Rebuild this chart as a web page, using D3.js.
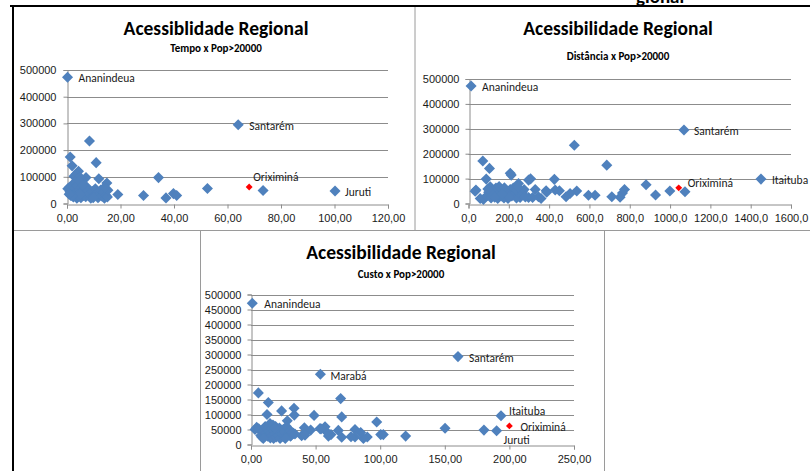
<!DOCTYPE html>
<html>
<head>
<meta charset="utf-8">
<script src="https://cdn.jsdelivr.net/npm/d3@7"></script>
<style>
  body { margin: 0; background: #fff; }
  svg { display: block; font-family: Carlito, "Liberation Sans Narrow", "DejaVu Sans Condensed", sans-serif; }
</style>
</head>
<body>
<svg id="sheet" width="810" height="471"></svg>
<script>
// ---- Data: [x value, population] ----
const tempoPoints = [
  [73.3,49000],[52.5,56000],[34.2,97000],[39.8,37000],[41.0,30000],[37.0,21000],[28.6,30000],[19.0,34000],
  [8.4,234000],[1.2,174000],[1.9,141000],[10.9,153000],[11.9,93000],[7.1,97000],[4.3,121000],[3.4,110000],
  [14.9,77000],[2.6,102000],[4.9,98000],
  [0.3,55000],[0.9,61000],[1.1,44000],[1.4,30000],[1.7,52000],[2.0,68000],[2.2,38000],[2.4,24000],[2.9,80000],
  [3.0,58000],[3.2,33000],[3.5,45000],[3.7,20000],[3.9,66000],[4.1,28000],[4.4,51000],[4.6,85000],[4.8,37000],
  [5.2,22000],[5.5,60000],[5.8,45000],[6.1,30000],[6.4,55000],[6.8,40000],[7.0,25000],[7.4,62000],[7.8,48000],
  [8.2,35000],[8.9,20000],[9.5,45000],[10.1,28000],[10.6,55000],[11.0,38000],[11.6,22000],[12.1,35000],
  [12.6,50000],[13.1,27000],[13.6,42000],[14.0,20000],[14.6,30000],[15.1,24000],[15.3,50000],[13.9,60000],
  [9.8,22000],[6.0,70000],[5.0,35000],[2.0,28000],[0.8,35000]
];
const tempoNamed = [
  ["Ananindeua", 0.2, 473000], ["Santarém", 64.0, 295000], ["Juruti", 100.2, 47000], ["Oriximiná", 68.1, 62000]
];

const distanciaPoints = [
  [1074,47000],[999,50000],[928,34000],[881,75000],[774,56000],[764,42000],[752,25000],[711,27000],[686,154000],
  [628,33000],[595,33000],[537,50000],[525,234000],[504,40000],[484,27000],[426,97000],[430,54000],[451,51000],
  [385,51000],[388,45000],[360,20000],[347,27000],[331,56000],[308,99000],[298,94000],[298,24000],[248,80000],
  [232,40000],[256,24000],[207,121000],[212,114000],[207,56000],[104,141000],[71,171000],[88,98000],[37,54000],
  [33,49000],[58,20000],[74,16000],[157,60000],[108,67000],[132,54000],[121,33000],[141,27000],[190,33000],
  [90,30000],[100,45000],[112,22000],[118,52000],[126,38000],[136,62000],[145,20000],[150,42000],[162,30000],
  [170,50000],[176,22000],[185,40000],[196,20000],[200,47000],[215,30000],[222,62000],[226,36000],[238,22000],
  [240,52000],[262,32000],[268,46000],[276,56000],[282,26000],[152,68000],[178,63000],[114,40000],[96,58000],
  [244,66000],[130,25000],[318,24000],[200,26000],[165,38000]
];
const distanciaNamed = [
  ["Ananindeua", 13, 472000], ["Santarém", 1069, 295000], ["Itaituba", 1451, 98000], ["Oriximiná", 1043, 63000]
];

const custoPoints = [
  [180.3,48000],[150.2,54000],[119.7,28000],[97.3,75000],[100.4,33000],[102.4,33000],[90,25000],[87,20000],
  [84.9,40000],[80.5,50000],[80.5,25000],[77.4,26000],[70.2,24000],[70.2,92000],[69.4,153000],[67.6,47000],
  [61.9,33000],[59.9,28000],[57.3,59000],[58.6,42000],[54.2,52000],[53.4,53000],[48.8,97000],[46.2,48000],
  [41.3,56000],[39.2,29000],[43.1,44000],[41.8,31000],[33.3,121000],[33.5,98000],[32.8,37000],[30.5,28000],
  [28.1,79000],[28.0,55000],[23.7,112000],[23.7,26000],
  [5.7,172000],[13.4,140000],[12.4,100000],[4.4,57000],[3.1,50000],[8.3,25000],
  [6,52000],[7.5,30000],[9,45000],[10,25000],[11,60000],[11.5,38000],[12.5,52000],[13,28000],[14,45000],
  [14.7,70000],[15,22000],[15.5,38000],[16,53000],[16.5,30000],[17,65000],[17.5,20000],[18,45000],[18.5,35000],
  [19,60000],[19.5,25000],[20,50000],[20.5,40000],[21,30000],[22,55000],[22.5,20000],[23,45000],[24,35000],
  [25,50000],[25.5,28000],[26,42000],[27,25000],[27.5,60000],[29,35000],[30,45000],[31,30000],[32,40000],
  [34,35000],[26.5,20000],[9.5,20000],[18.8,55000]
];
const custoNamed = [
  ["Ananindeua", 1.0, 471000], ["Santarém", 160.2, 293000], ["Marabá", 53.7, 234000],
  ["Itaituba", 193.5, 96000], ["Juruti", 190.1, 46000], ["Oriximiná", 200, 62000]
];

// ---- Tick values ----
const tempoXTicks = [0, 20, 40, 60, 80, 100, 120];
const distanciaXTicks = [0, 200, 400, 600, 800, 1000, 1200, 1400, 1600];
const custoXTicks = [0, 50, 100, 150, 200, 250];
const popTicksCoarse = [0, 100000, 200000, 300000, 400000, 500000];
const popTicksFine = [0, 50000, 100000, 150000, 200000, 250000, 300000, 350000, 400000, 450000, 500000];

const titles = ["Acessiblidade Regional", "Acessibilidade Regional", "Acessibilidade Regional"];
const subtitles = ["Tempo x Pop>20000", "Distância x Pop>20000", "Custo x Pop>20000"];
const highlighted = "Oriximiná";

// ---- Layout ----
const BLUE = "#4F81BD", RED = "#FF0000", GRID = "#8C8C8C";
const svg = d3.select("#sheet");

// page frame: black rules and grey cell dividers
svg.append("text").attr("x", 636).attr("y", 3).attr("font-weight", "bold").attr("font-size", 19)
  .attr("fill", "#000").text("gional");
const frame = svg.append("g");
frame.append("line").attr("x1", 415).attr("x2", 415).attr("y1", 6).attr("y2", 230).attr("stroke", "#9a9a9a");
frame.append("line").attr("x1", 13).attr("x2", 810).attr("y1", 230.5).attr("y2", 230.5).attr("stroke", "#9a9a9a");
frame.append("line").attr("x1", 200.5).attr("x2", 200.5).attr("y1", 230).attr("y2", 471).attr("stroke", "#9a9a9a");
frame.append("line").attr("x1", 604.5).attr("x2", 604.5).attr("y1", 230).attr("y2", 471).attr("stroke", "#9a9a9a");
frame.append("line").attr("x1", 10).attr("x2", 810).attr("y1", 6).attr("y2", 6).attr("stroke", "#000").attr("stroke-width", 2);
frame.append("line").attr("x1", 13).attr("x2", 13).attr("y1", 5).attr("y2", 471).attr("stroke", "#000").attr("stroke-width", 2);

const panels = [
  { points: tempoPoints, named: tempoNamed, xTicks: tempoXTicks, yTicks: popTicksCoarse, xDigits: 2,
    x: [67, 388], y: [203.5, 70], titleX: 216, titleY: 35, subY: 52, key: "tempo", yPad: 7 },
  { points: distanciaPoints, named: distanciaNamed, xTicks: distanciaXTicks, yTicks: popTicksCoarse, xDigits: 1,
    x: [468.5, 791], y: [203.5, 79], titleX: 618, titleY: 35, subY: 60, key: "distancia", yPad: 6 },
  { points: custoPoints, named: custoNamed, xTicks: custoXTicks, yTicks: popTicksFine, xDigits: 2,
    x: [251, 574], y: [444.5, 294.5], titleX: 401, titleY: 259, subY: 278, key: "custo", yPad: 6 }
];

// label placement relative to each named marker
const labelOffsets = {
  tempo: { "Ananindeua": [11, 1], "Santarém": [11, 1], "Juruti": [10, 1], "Oriximiná": [4, -10] },
  distancia: { "Ananindeua": [11, 1], "Santarém": [10, 1], "Itaituba": [11, 1], "Oriximiná": [9, -5] },
  custo: { "Ananindeua": [12, 1], "Santarém": [11, 1], "Marabá": [10, 2], "Itaituba": [8, -5],
           "Juruti": [7, 9], "Oriximiná": [11, 1] }
};

panels.forEach((p, i) => {
  const xs = d3.scaleLinear().domain([p.xTicks[0], p.xTicks[p.xTicks.length - 1]]).range(p.x);
  const ys = d3.scaleLinear().domain([0, 500000]).range(p.y);
  const g = svg.append("g");

  // titles
  g.append("text").attr("x", p.titleX).attr("y", p.titleY).attr("text-anchor", "middle")
    .attr("font-weight", "bold").attr("font-size", 19.5).attr("fill", "#000").text(titles[i]);
  g.append("text").attr("x", p.titleX).attr("y", p.subY).attr("text-anchor", "middle")
    .attr("font-weight", "bold").attr("font-size", 11).attr("fill", "#000").text(subtitles[i]);

  // horizontal gridlines
  g.append("g").selectAll("line").data(p.yTicks.filter(t => t > 0)).join("line")
    .attr("x1", p.x[0]).attr("x2", p.x[1]).attr("y1", d => Math.round(ys(d)) + 0.5).attr("y2", d => Math.round(ys(d)) + 0.5)
    .attr("stroke", GRID).attr("stroke-width", 1);

  // y axis
  const yAxis = g.append("g").attr("transform", `translate(${Math.round(p.x[0]) + 0.5},0)`)
    .call(d3.axisLeft(ys).tickValues(p.yTicks).tickFormat(d => String(d)).tickSize(4).tickPadding(p.yPad));
  // x axis
  const xAxis = g.append("g").attr("transform", `translate(0,${Math.round(p.y[0]) + 0.5})`)
    .call(d3.axisBottom(xs).tickValues(p.xTicks).tickFormat(d => d.toFixed(p.xDigits).replace(".", ","))
      .tickSize(4).tickPadding(6));
  [yAxis, xAxis].forEach(a => {
    a.select(".domain").attr("stroke", GRID);
    a.selectAll(".tick line").attr("stroke", GRID);
    a.selectAll(".tick text").attr("font-size", 11).attr("fill", "#1a1a1a").attr("font-family", null);
  });

  // markers
  const diamond = d3.symbol().type(d3.symbolDiamond2);
  const all = p.points.map(d => ({ x: d[0], y: d[1], name: null }))
    .concat(p.named.map(d => ({ x: d[1], y: d[2], name: d[0] })));
  g.append("g").selectAll("path").data(all.filter(d => d.name !== highlighted)).join("path")
    .attr("d", diamond.size(78)())
    .attr("transform", d => `translate(${xs(d.x)},${ys(d.y)})`)
    .attr("fill", BLUE);
  g.append("g").selectAll("path").data(all.filter(d => d.name === highlighted)).join("path")
    .attr("d", diamond.size(30)())
    .attr("transform", d => `translate(${xs(d.x)},${ys(d.y)})`)
    .attr("fill", RED);

  // point labels
  g.append("g").selectAll("text").data(p.named).join("text")
    .attr("x", d => xs(d[1]) + labelOffsets[p.key][d[0]][0])
    .attr("y", d => ys(d[2]) + labelOffsets[p.key][d[0]][1])
    .attr("dy", "0.35em").attr("font-size", 11.5).attr("fill", "#1a1a1a")
    .text(d => d[0]);
});
</script>
</body>
</html>
